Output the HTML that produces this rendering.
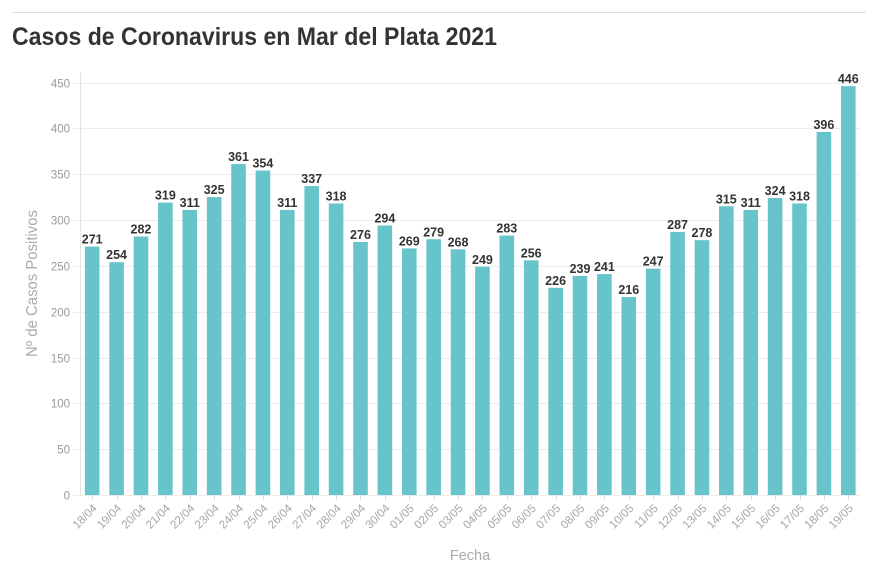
<!DOCTYPE html>
<html><head><meta charset="utf-8"><style>
html,body{margin:0;padding:0;background:#fff;}
svg{display:block;}
</style></head><body>
<svg width="879" height="575" viewBox="0 0 879 575" xmlns="http://www.w3.org/2000/svg" font-family="Liberation Sans, sans-serif">
<line x1="12" y1="12.5" x2="866" y2="12.5" stroke="#dcdcdc" stroke-width="1"/>
<text x="12" y="45" font-size="25" font-weight="bold" fill="#333" textLength="485" lengthAdjust="spacingAndGlyphs">Casos de Coronavirus en Mar del Plata 2021</text>
<g id="grid" stroke="#ececec" stroke-width="1"></g>
<line x1="80.5" y1="72" x2="80.5" y2="495" stroke="#e4e4e4" stroke-width="1"/>
<g id="yl" font-size="11.5" fill="#999" text-anchor="end"></g>
<g id="bars" fill="#67c4cb"></g>
<g id="vals" font-size="12.5" font-weight="bold" fill="#333" text-anchor="middle"></g>
<g id="xt" stroke="#dcdcdc" stroke-width="1"></g>
<g id="xl" font-size="11.5" fill="#a6a6a6" text-anchor="end"></g>
<text transform="translate(37,283.5) rotate(-90)" font-size="15.5" fill="#aaa" text-anchor="middle" textLength="147" lengthAdjust="spacingAndGlyphs">Nº de Casos Positivos</text>
<text x="470" y="560" font-size="14.5" fill="#aaa" text-anchor="middle">Fecha</text>
</svg>
<script>
(function(){
var NS="http://www.w3.org/2000/svg";
function el(t,a,p,txt){var e=document.createElementNS(NS,t);for(var k in a)e.setAttribute(k,a[k]);if(txt!==undefined)e.textContent=txt;p.appendChild(e);return e;}
var data=[271,254,282,319,311,325,361,354,311,337,318,276,294,269,279,268,249,283,256,226,239,241,216,247,287,278,315,311,324,318,396,446];
var labels=[];
for(var d=18;d<=30;d++)labels.push(d+"/04");
for(var d=1;d<=19;d++)labels.push((d<10?"0":"")+d+"/05");
var y0=495,k=412.5/450,x0=80,band=24.39,bw=14.6;
var grid=document.getElementById("grid"),yl=document.getElementById("yl");
for(var v=0;v<=450;v+=50){var y=Math.round(y0-v*k)+0.5;
el("line",{x1:73,y1:y,x2:860,y2:y},grid);
el("text",{x:70,y:y+4},yl,String(v));}
var bars=document.getElementById("bars"),vals=document.getElementById("vals"),xt=document.getElementById("xt"),xl=document.getElementById("xl");
for(var i=0;i<data.length;i++){
var c=x0+band*(i+0.5);var top=y0-data[i]*k;
el("rect",{x:c-bw/2,y:top,width:bw,height:y0-top},bars);
el("text",{x:c,y:top-3},vals,String(data[i]));
el("line",{x1:Math.round(c)+0.5,y1:495,x2:Math.round(c)+0.5,y2:500},xt);
el("text",{transform:"translate("+(c+5.5)+",509) rotate(-45)"},xl,labels[i]);
}
})();
</script>
</body></html>
